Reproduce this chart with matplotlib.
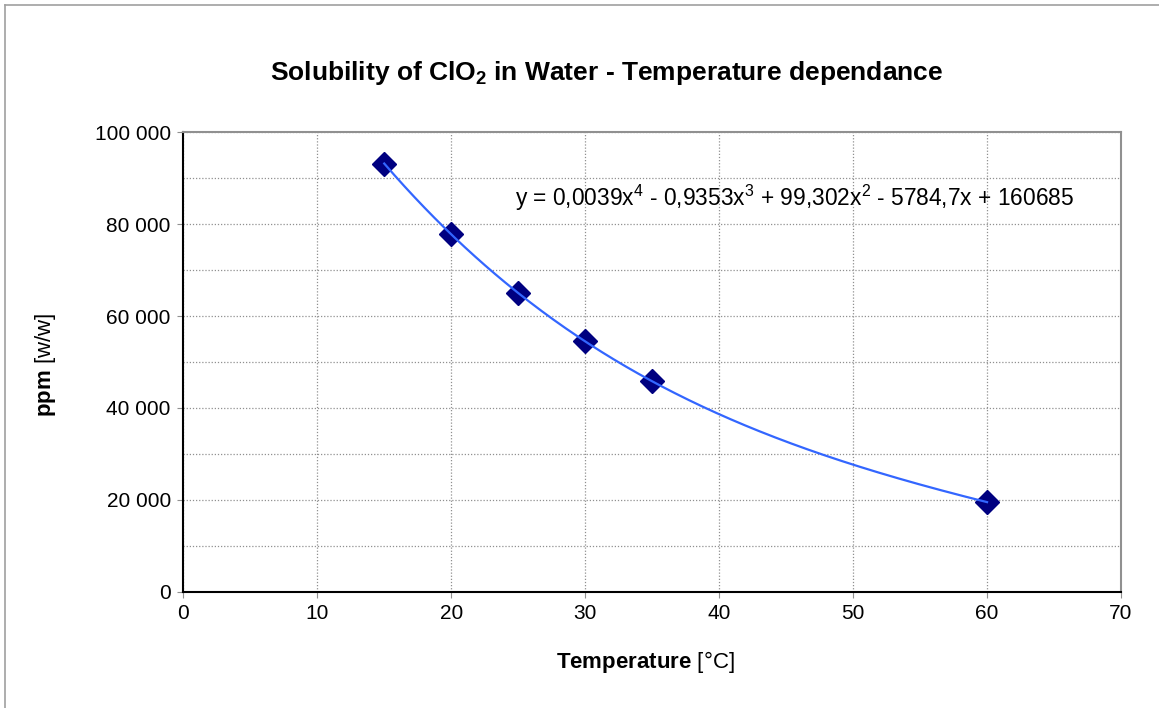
import numpy as np
import matplotlib
matplotlib.use("Agg")
import matplotlib.pyplot as plt
from matplotlib.ticker import FuncFormatter, MultipleLocator
from matplotlib.lines import Line2D

plt.rcParams['font.family'] = ['Liberation Sans', 'DejaVu Sans']
plt.rcParams['mathtext.fontset'] = 'custom'
plt.rcParams['mathtext.rm'] = 'Liberation Sans'
plt.rcParams['mathtext.it'] = 'Liberation Sans:italic'
plt.rcParams['mathtext.bf'] = 'Liberation Sans:bold'

# Data
temperature = [15, 20, 25, 30, 35, 60]
solubility_ppm = [93200, 77800, 65000, 54500, 45800, 19500]
title = r"Solubility of ClO$_\mathbf{2}$ in Water - Temperature dependance"
equation = r"y = 0,0039x$^4$ - 0,9353x$^3$ + 99,302x$^2$ - 5784,7x + 160685"
x_label = r"$\mathbf{Temperature}$ [°C]"
y_label = r"$\mathbf{ppm}$ [w/w]"

W, H = 1159, 708
fig = plt.figure(figsize=(W / 100, H / 100), dpi=100)
ax = fig.add_axes([183.3 / W, 1 - 591.7 / H, (1121 - 183.3) / W, (591.7 - 132.3) / H])

# outer chart border
fig.add_artist(Line2D([5 / W, 5 / W], [0, 1 - 5 / H], transform=fig.transFigure, color='#a0a0a0', lw=1.2))
fig.add_artist(Line2D([5 / W, 1], [1 - 5 / H, 1 - 5 / H], transform=fig.transFigure, color='#a0a0a0', lw=1.2))

ax.set_xlim(0, 70)
ax.set_ylim(0, 100000)
ax.xaxis.set_major_locator(MultipleLocator(10))
ax.yaxis.set_major_locator(MultipleLocator(20000))
ax.yaxis.set_minor_locator(MultipleLocator(10000))
ax.yaxis.set_major_formatter(FuncFormatter(lambda v, p: f"{int(v):,}".replace(",", " ")))

ax.grid(True, which='both', axis='y', color='#909090', linestyle=(0, (1, 1.5)), lw=0.9)
ax.grid(True, which='major', axis='x', color='#909090', linestyle=(0, (1, 1.5)), lw=0.9)
ax.set_axisbelow(True)

for s in ['left', 'bottom']:
    ax.spines[s].set_color('black')
    ax.spines[s].set_linewidth(1.5)
for s in ['top', 'right']:
    ax.spines[s].set_color('#909090')
    ax.spines[s].set_linewidth(1.5)

ax.tick_params(axis='both', which='major', direction='out', length=4, color='#909090',
               labelsize=15, pad=5)
ax.tick_params(axis='y', which='minor', left=False)

# markers
ax.plot(temperature, solubility_ppm, linestyle='none', marker='D', markersize=12,
        color='#000080', zorder=3)

# polynomial trendline (order 4)
coef = np.polyfit(temperature, solubility_ppm, 4)
xs = np.linspace(min(temperature), max(temperature), 300)
ax.plot(xs, np.polyval(coef, xs), color='#3366ff', lw=1.6, zorder=4)

fig.text(515 / W, 1 - 198 / H, equation, fontsize=16.4, va='center', ha='left')

fig.text(607 / W, 1 - 73 / H, title, fontsize=19, fontweight='bold', ha='center', va='center')
fig.text(645 / W, 1 - 662 / H, x_label, fontsize=16, ha='center', va='center')
fig.text(45 / W, 1 - 365 / H, y_label, fontsize=16, ha='center', va='center', rotation=90)

fig.savefig("out.png", dpi=100)
